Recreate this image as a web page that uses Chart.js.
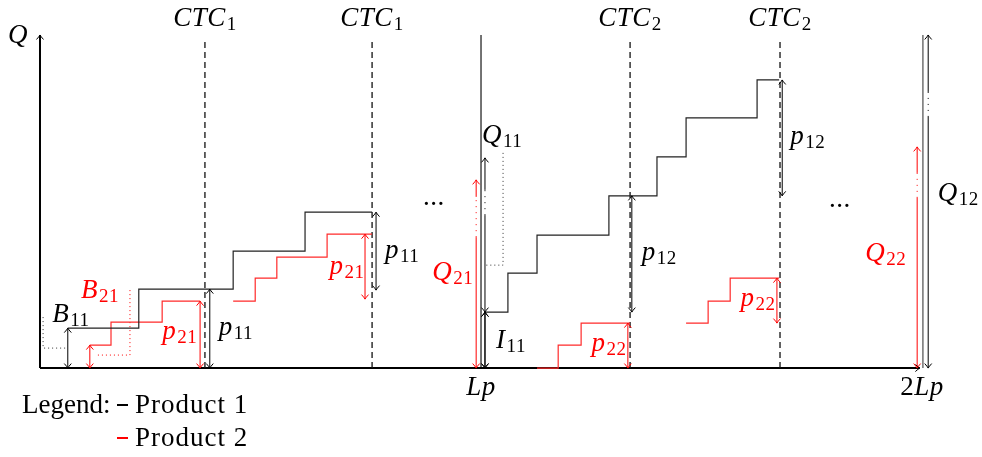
<!DOCTYPE html>
<html>
<head>
<meta charset="utf-8">
<script src="https://cdn.jsdelivr.net/npm/chart.js@4"></script>
<style>
  html, body { margin: 0; background: #fff; }
  canvas { display: block; }
</style>
</head>
<body>
<canvas id="chart" width="982" height="457"></canvas>
<script>
/* x in % of Lp (0 = origin, 100 = Lp, 200 = 2Lp), y in quantity units (axis top = 100) */

const xTickValues = [100, 200];
const xTickLabels = [['', 'Lp'], ['2', 'Lp']];

const ctcX      = [37.4, 75.3, 133.8, 167.8];
const ctcLabels = ['1', '1', '2', '2'];
const lpX = 100, twoLpX = 200.2, axisTop = 100;

// inventory steps, product 1 (black)
const p1Cycle1 = [[6.3,12.0],[22.4,12.0],[22.4,23.7],[43.8,23.7],[43.8,35.1],[60.1,35.1],[60.1,46.8],[75.3,46.8]];
const p1Cycle2 = [[101.1,16.8],[106.1,16.8],[106.1,28.5],[112.7,28.5],[112.7,39.9],[129.0,39.9],[129.0,51.7],[139.9,51.7],
                  [139.9,63.4],[146.5,63.4],[146.5,75.1],[162.6,75.1],[162.6,86.5],[167.6,86.5]];
// inventory steps, product 2 (red)
const p2Cycle1a = [[11.3,6.9],[16.1,6.9],[16.1,13.8],[27.7,13.8],[27.7,20.1],[36.3,20.1]];
const p2Cycle1b = [[43.8,20.1],[48.8,20.1],[48.8,27.0],[53.7,27.0],[53.7,33.3],[65.1,33.3],[65.1,40.2],[75.3,40.2]];
const p2Cycle2a = [[112.7,0],[117.5,0],[117.5,6.9],[122.7,6.9],[122.7,13.5],[133.8,13.5]];
const p2Cycle2b = [[146.5,13.5],[151.5,13.5],[151.5,20.1],[156.5,20.1],[156.5,27.0],[167.6,27.0]];

// dotted helper brackets
const p1Dotted = [[[0.7,15.3],[0.7,6.0],[6.3,6.0]], [[105.0,64.6],[105.0,30.9],[101.1,30.9]]];
const p2Dotted = [[[20.4,23.4],[20.4,3.9],[12.5,3.9]]];

// double arrows [x, yFrom, yTo]
const p1Arrows = [[6.3,0,12.0],[38.5,0,23.7],[76.2,23.4,46.8],[100.9,0,16.8],[134.2,16.8,51.7],[168.3,51.7,86.5]];
const p2Arrows = [[11.3,0,6.9],[36.3,0,20.1],[73.7,20.7,40.2],[133.3,0,13.5],[167.1,13.5,27.0]];

// order-quantity arrows [x, top, gapTop, gapBottom]
const qArrowsP1 = [[100.9,63.1,53.5,45.9],[201.4,100,82.9,75.4]];
const qArrowsP2 = [[98.9,56.5,51.4,39.3],[198.9,66.4,58.6,51.1]];

const crossMarks = [[100.9,16.8]];

// text labels: [pre, italic, subscript, x, y, colour]
const BLK = '#000', RED = '#ff0000';
const textLabels = [
  ['', 'Q', '', -5.0, 100, BLK],
  ['', 'B', '11', 7.0, 16.2, BLK],
  ['', 'B', '21', 13.6, 23.4, RED],
  ['', 'p', '21', 31.7, 11.1, RED],
  ['', 'p', '11', 44.4, 12.3, BLK],
  ['', 'p', '11', 82.1, 35.4, BLK],
  ['', 'p', '21', 69.6, 30.6, RED],
  ['...', '', '', 89.3, 51.4, BLK],
  ['', 'Q', '11', 104.8, 70.0, BLK],
  ['', 'Q', '21', 93.6, 28.8, RED],
  ['', 'I', '11', 106.8, 8.4, BLK],
  ['', 'p', '22', 129.0, 7.5, RED],
  ['', 'p', '12', 140.4, 34.8, BLK],
  ['', 'p', '12', 174.1, 69.7, BLK],
  ['', 'p', '22', 162.8, 21.0, RED],
  ['...', '', '', 181.4, 50.8, BLK],
  ['', 'Q', '22', 191.8, 34.5, RED],
  ['', 'Q', '12', 208.2, 52.6, BLK]
];

const legendItems = ['Product 1', 'Product 2'];
const legendColors = [BLK, RED];

/* ── dataset helpers ── */
function seg(pts, color, width, dash, heads, order) {
    return {
        data: pts.map(([x, y]) => ({ x, y })),
        borderColor: color, borderWidth: width, borderDash: dash || [],
        showLine: true, pointRadius: 0, pointHoverRadius: 0, fill: false, tension: 0,
        heads: heads || null, order: order || 0
    };
}

const datasets = [];
// axes sit underneath everything else (higher order = drawn first)
datasets.push(seg([[0,0],[0,axisTop]], BLK, 2, [], 'end', 10));
datasets.push(seg([[0,0],[199.5,0]], BLK, 2, [], 'end', 10));
datasets.push(seg([[lpX,0],[lpX,axisTop]], BLK, 1.1, [], null, 5));
datasets.push(seg([[twoLpX,0],[twoLpX,axisTop]], '#666', 1.4, [], null, 5));
ctcX.forEach(x => datasets.push(seg([[x,0],[x,98.3]], '#111', 1.3, [6, 4], null, 5)));

[p1Cycle1, p1Cycle2].forEach(s => datasets.push(seg(s, '#222', 1.2)));
[p2Cycle1a, p2Cycle1b, p2Cycle2a, p2Cycle2b].forEach(s => datasets.push(seg(s, '#ff2a2a', 1.2)));
p1Dotted.forEach(s => datasets.push(seg(s, '#333', 1, [1, 3])));
p2Dotted.forEach(s => datasets.push(seg(s, RED, 1, [1, 3])));

p1Arrows.forEach(([x, a, b]) => datasets.push(seg([[x,a],[x,b]], BLK, 1, [], 'both')));
p2Arrows.forEach(([x, a, b]) => datasets.push(seg([[x,a],[x,b]], RED, 1, [], 'both')));

function qArrow([x, top, gTop, gBot], color) {
    datasets.push(seg([[x,0],[x,gBot]], color, 1, [], 'start'));
    datasets.push(seg([[x,gBot],[x,gTop]], color, 1, [1, 5]));
    datasets.push(seg([[x,gTop],[x,top]], color, 1, [], 'end'));
}
qArrowsP1.forEach(a => qArrow(a, BLK));
qArrowsP2.forEach(a => qArrow(a, RED));

/* ── drawing helpers ── */
const FONT = '"Liberation Serif", "Times New Roman", serif';

function arrowHead(ctx, tx, ty, fx, fy, color) {
    const len = Math.hypot(tx - fx, ty - fy) || 1;
    const ux = (tx - fx) / len, uy = (ty - fy) / len;
    const nx = -uy, ny = ux;
    const bx = tx - ux * 4.5, by = ty - uy * 4.5;
    ctx.save();
    ctx.strokeStyle = color; ctx.lineWidth = 1; ctx.setLineDash([]);
    ctx.beginPath();
    ctx.moveTo(bx + nx * 3.5, by + ny * 3.5);
    ctx.quadraticCurveTo(tx - ux * 1.5 + nx * 0.8, ty - uy * 1.5 + ny * 0.8, tx, ty);
    ctx.quadraticCurveTo(tx - ux * 1.5 - nx * 0.8, ty - uy * 1.5 - ny * 0.8, bx - nx * 3.5, by - ny * 3.5);
    ctx.stroke();
    ctx.restore();
}

function mathText(ctx, pre, it, sub, cx, cy, color) {
    ctx.save();
    ctx.fillStyle = color;
    ctx.textBaseline = 'alphabetic';
    ctx.textAlign = 'left';
    ctx.letterSpacing = '0.5px';
    const fRom = '27px ' + FONT, fIt = 'italic 27px ' + FONT, fSub = '19px ' + FONT;
    ctx.font = fRom; const wPre = ctx.measureText(pre).width;
    ctx.font = fIt;  const wIt = ctx.measureText(it).width;
    ctx.font = fSub; const wSub = sub ? ctx.measureText(sub).width + 1 : 0;
    let x = cx - (wPre + wIt + wSub) / 2;
    const base = cy + 8;
    ctx.font = fRom; ctx.fillText(pre, x, base); x += wPre;
    ctx.font = fIt;  ctx.fillText(it, x, base); x += wIt + 1;
    if (sub) { ctx.font = fSub; ctx.fillText(sub, x, base + 4); }
    ctx.restore();
}

const annotate = {
    id: 'annotate',
    afterDatasetsDraw(chart) {
        const { ctx, scales: { x: sx, y: sy } } = chart;

        chart.data.datasets.forEach((ds, i) => {
            if (!ds.heads) return;
            const pts = chart.getDatasetMeta(i).data;
            const a = pts[0], b = pts[pts.length - 1];
            if (ds.heads === 'both' || ds.heads === 'start') arrowHead(ctx, a.x, a.y, b.x, b.y, ds.borderColor);
            if (ds.heads === 'both' || ds.heads === 'end')   arrowHead(ctx, b.x, b.y, a.x, a.y, ds.borderColor);
        });

        crossMarks.forEach(([x, y]) => {
            const px = sx.getPixelForValue(x), py = sy.getPixelForValue(y);
            arrowHead(ctx, px, py, px, py + 10, BLK);
            arrowHead(ctx, px, py, px, py - 10, BLK);
        });

        ctcX.forEach((x, i) => mathText(ctx, '', 'CTC', ctcLabels[i], sx.getPixelForValue(x), sy.getPixelForValue(105.1), BLK));
        xTickValues.forEach((v, i) => mathText(ctx, xTickLabels[i][0], xTickLabels[i][1], '', sx.getPixelForValue(v), sy.getPixelForValue(-5.7), BLK));
        textLabels.forEach(([pre, it, sub, x, y, c]) => mathText(ctx, pre, it, sub, sx.getPixelForValue(x), sy.getPixelForValue(y), c));

        /* ── legend ── */
        ctx.save();
        ctx.font = '27px ' + FONT;
        ctx.textBaseline = 'alphabetic';
        ctx.fillStyle = BLK;
        ctx.fillText('Legend:', 22, 413);
        ctx.letterSpacing = '1px';
        legendItems.forEach((name, i) => {
            const yy = 405 + i * 33;
            ctx.strokeStyle = legendColors[i]; ctx.lineWidth = 2;
            ctx.beginPath(); ctx.moveTo(117, yy); ctx.lineTo(128, yy); ctx.stroke();
            ctx.fillStyle = BLK;
            ctx.fillText(name, 135, yy + 8);
        });
        ctx.restore();
    }
};

new Chart(document.getElementById('chart').getContext('2d'), {
    type: 'scatter',
    data: { datasets },
    options: {
        responsive: false,
        animation: false,
        layout: { padding: 0 },
        plugins: { legend: { display: false }, tooltip: { enabled: false } },
        events: [],
        scales: {
            x: { type: 'linear', min: -9.07, max: 213.6, display: false },
            y: { type: 'linear', min: -26.7, max: 110.5, display: false }
        }
    },
    plugins: [annotate]
});
</script>
</body>
</html>
